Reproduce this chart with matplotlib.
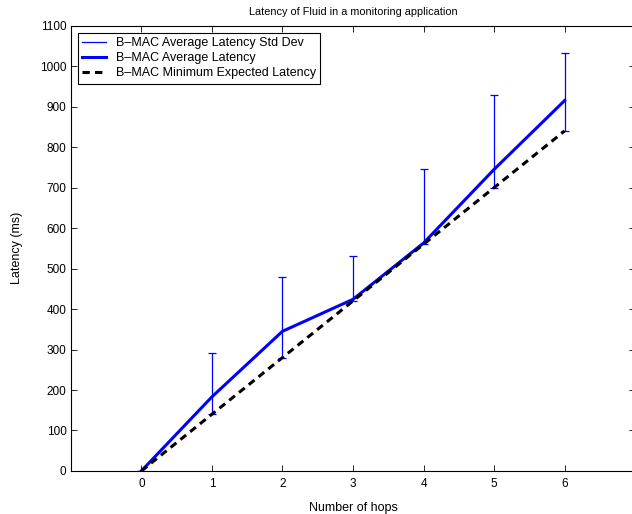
import matplotlib
matplotlib.use("Agg")
import matplotlib.pyplot as plt
import matplotlib.ticker as ticker
from matplotlib.lines import Line2D

plt.rcParams['font.family'] = ['Liberation Sans', 'DejaVu Sans']

hops = [0, 1, 2, 3, 4, 5, 6]
avg_latency = [0, 183, 345, 424, 563, 745, 915]
upper_latency = [0, 292, 479, 532, 746, 930, 1032]
min_expected = [0, 140, 280, 420, 560, 700, 840]
legend_labels = ['B\u2013MAC Average Latency Std Dev',
                 'B\u2013MAC Average Latency',
                 'B\u2013MAC Minimum Expected Latency']

err_low = [a - m for a, m in zip(avg_latency, min_expected)]
err_high = [u - a for u, a in zip(upper_latency, avg_latency)]

fig = plt.figure(figsize=(6.32, 5.14), dpi=100)
ax = fig.add_axes([0.112, 0.0837, 0.893, 0.8663])

ax.errorbar(hops, avg_latency, yerr=[err_low, err_high], fmt='none',
            ecolor='blue', elinewidth=0.9, capsize=3, capthick=0.9)
ax.plot(hops, avg_latency, color='blue', lw=2.2)
dash = (0, (2.4, 1.7))
ax.plot(hops, min_expected, color='black', lw=2.2, ls=dash)

ax.set_xlim(-1, 7)
ax.set_ylim(0, 1100)
ax.xaxis.set_major_locator(ticker.FixedLocator(hops))
ax.yaxis.set_major_locator(ticker.MultipleLocator(100))
ax.tick_params(direction='in', length=4, labelsize=8.5, width=0.6, pad=3)
ax.tick_params(axis='x', pad=5)
ax.tick_params(top=True, right=True)
for s in ax.spines.values():
    s.set_linewidth(0.8)

ax.set_title('Latency of Fluid in a monitoring application', fontsize=7.8, pad=8)
ax.set_xlabel('Number of hops', fontsize=9, labelpad=9)
ax.set_ylabel('Latency (ms)', fontsize=9, labelpad=12)

handles = [Line2D([], [], color='blue', lw=0.9),
           Line2D([], [], color='blue', lw=2.2),
           Line2D([], [], color='black', lw=2.2, ls=dash)]
leg = ax.legend(handles, legend_labels,
                loc='upper left', bbox_to_anchor=(0.0125, 0.984), fontsize=9,
                frameon=True, fancybox=False, edgecolor='black', framealpha=1,
                borderpad=0.35, labelspacing=0.25, handlelength=1.9,
                handletextpad=0.8, borderaxespad=0)
leg.get_frame().set_linewidth(0.8)

fig.savefig('out.png', dpi=100)
